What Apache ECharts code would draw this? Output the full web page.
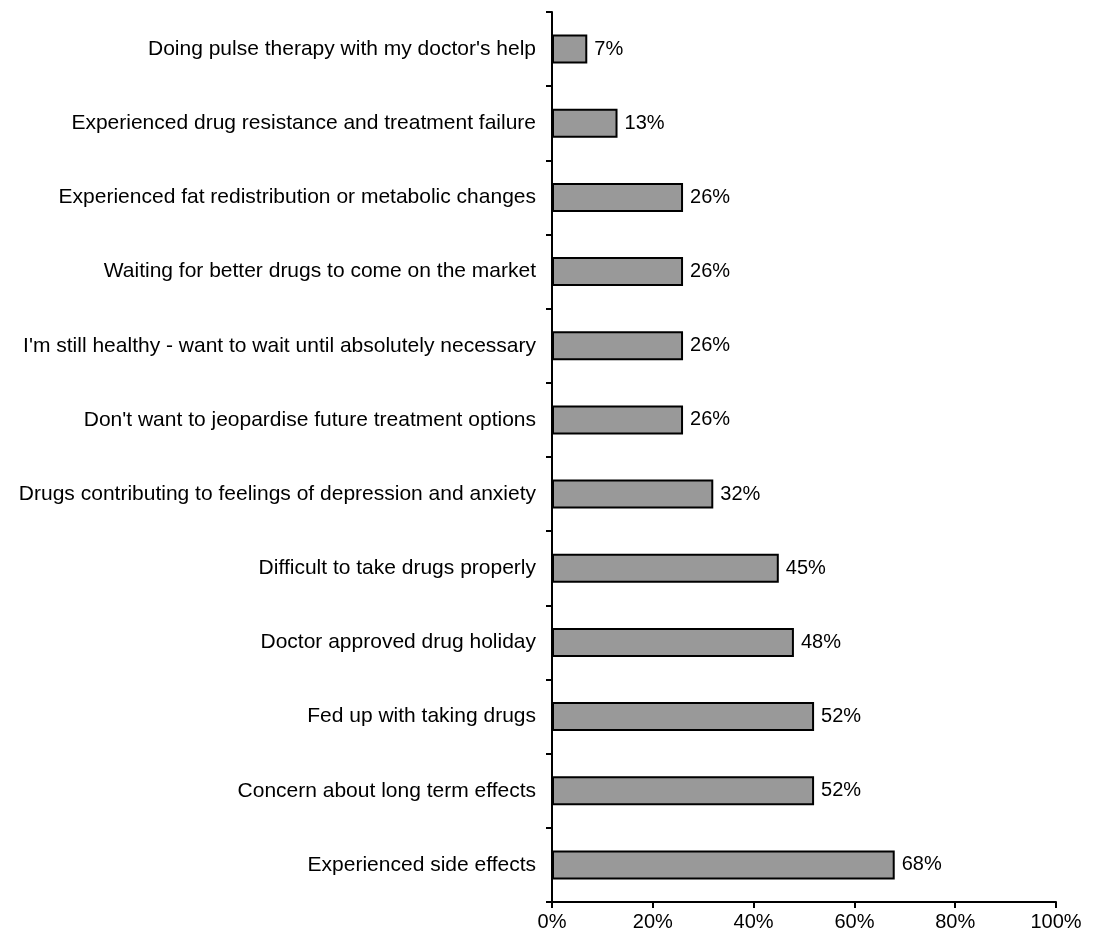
<!DOCTYPE html>
<html><head><meta charset="utf-8">
<script src="https://cdn.jsdelivr.net/npm/echarts@6/dist/echarts.min.js"></script>
<style>html,body{margin:0;padding:0;background:#fff}#c{width:1096px;height:943px}</style>
</head><body><div id="c"></div>
<script>
const categories = [
  "Doing pulse therapy with my doctor's help",
  "Experienced drug resistance and treatment failure",
  "Experienced fat redistribution or metabolic changes",
  "Waiting for better drugs to come on the market",
  "I'm still healthy - want to wait until absolutely necessary",
  "Don't want to jeopardise future treatment options",
  "Drugs contributing to feelings of depression and anxiety",
  "Difficult to take drugs properly",
  "Doctor approved drug holiday",
  "Fed up with taking drugs",
  "Concern about long term effects",
  "Experienced side effects"
];
const values = [7, 13, 26, 26, 26, 26, 32, 45, 48, 52, 52, 68];
const xTicks = [0, 20, 40, 60, 80, 100];

const font = "'Liberation Sans', Arial, sans-serif";
const chart = echarts.init(document.getElementById('c'));
chart.setOption({
  animation: false,
  backgroundColor: '#fff',
  grid: { left: 552, right: 40, top: 12, bottom: 41, containLabel: false },
  xAxis: {
    type: 'value', min: xTicks[0], max: xTicks[xTicks.length - 1], interval: 20,
    axisLine: { show: true, lineStyle: { color: '#000', width: 2 } },
    axisTick: { show: true, length: 6, lineStyle: { color: '#000', width: 2 } },
    splitLine: { show: false },
    axisLabel: { color: '#000', fontSize: 20, fontFamily: font, margin: 10, formatter: '{value}%' }
  },
  yAxis: {
    type: 'category', data: categories, inverse: true,
    axisLine: { show: true, lineStyle: { color: '#000', width: 2 } },
    axisTick: { show: true, length: 6, alignWithLabel: false, lineStyle: { color: '#000', width: 2 } },
    axisLabel: { color: '#000', fontSize: 21, fontFamily: font, margin: 16 }
  },
  series: [{
    type: 'bar', data: values, barWidth: 29,
    itemStyle: { color: '#999999', borderColor: '#000', borderWidth: 2 },
    label: { show: true, position: 'right', distance: 7, formatter: '{c}%', color: '#000', fontSize: 20, fontFamily: font }
  }]
});
</script></body></html>
